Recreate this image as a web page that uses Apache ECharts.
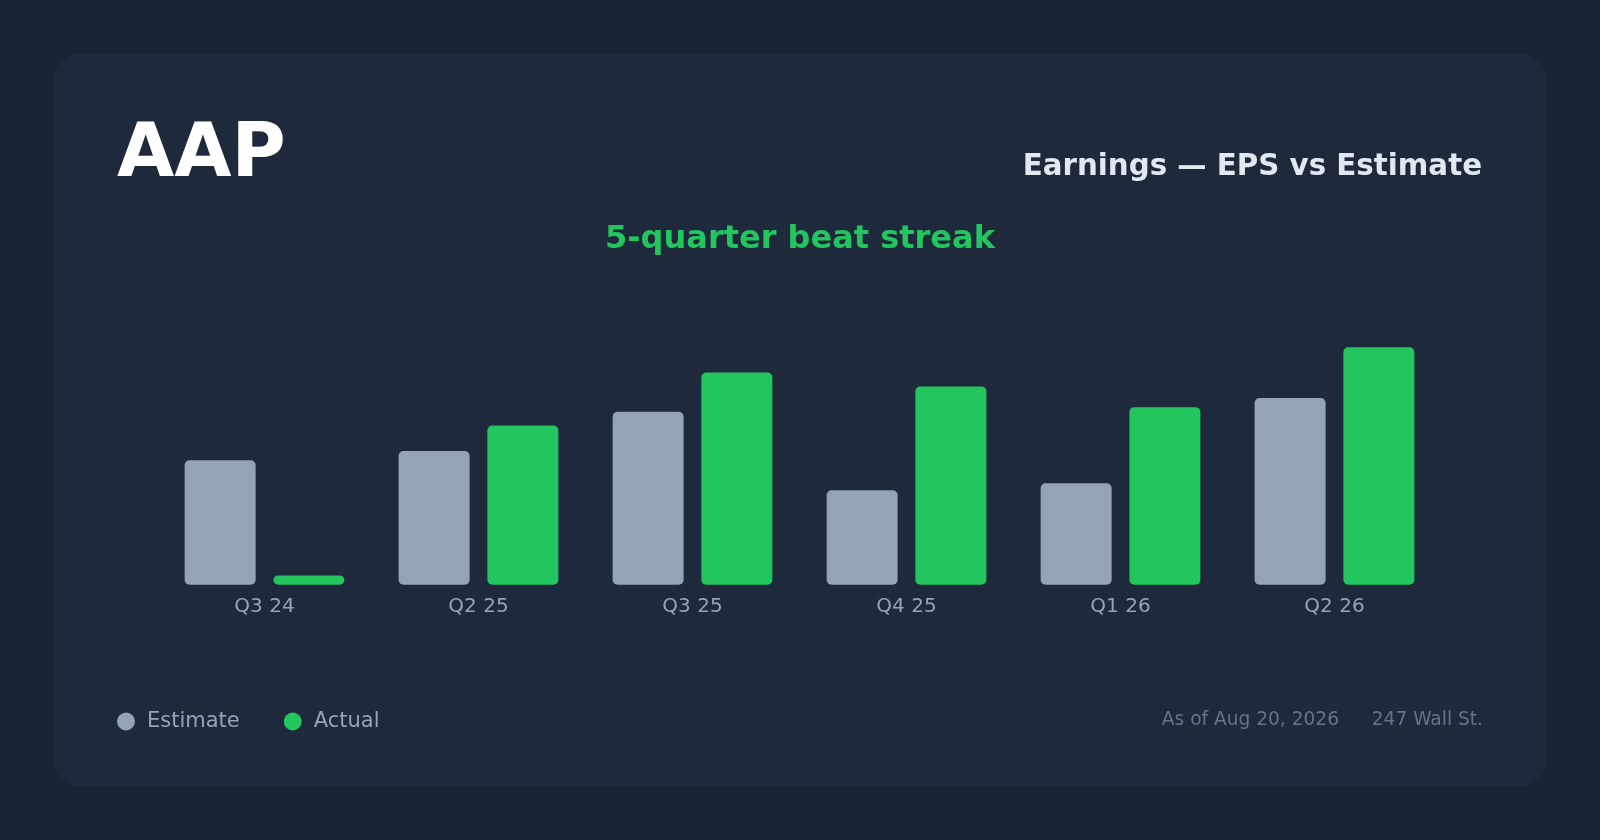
<!DOCTYPE html>
<html>
<head>
<meta charset="utf-8">
<title>AAP Earnings</title>
<script src="https://cdn.jsdelivr.net/npm/echarts@6/dist/echarts.min.js"></script>
<style>
  html, body { margin: 0; padding: 0; background: #1a2332; }
  #main { width: 1600px; height: 840px; }
</style>
</head>
<body>
<div id="main"></div>
<script>
// quarters and EPS values (USD)
const quarters = ['Q3 24', 'Q2 25', 'Q3 25', 'Q4 25', 'Q1 26', 'Q2 26'];
const estimate = [0.54, 0.58, 0.75, 0.41, 0.44, 0.81];
const actual = [0.04, 0.69, 0.92, 0.86, 0.77, 1.03];

const font = 'DejaVu Sans';
const chart = echarts.init(document.getElementById('main'), null, { renderer: 'canvas' });

const option = {
  backgroundColor: '#1a2332',
  animation: false,
  title: [
    {
      text: 'AAP',
      left: 117,
      top: 120,
      padding: 0,
      textStyle: { color: '#ffffff', fontSize: 74, fontWeight: 'bold', fontFamily: font }
    },
    {
      text: 'Earnings — EPS vs Estimate',
      right: 118,
      top: 153,
      padding: 0,
      textStyle: { color: '#e2e8f0', fontSize: 29.3, fontWeight: 'bold', fontFamily: font }
    },
    {
      text: '5-quarter beat streak',
      left: 'center',
      top: 224,
      padding: 0,
      textStyle: { color: '#22c55e', fontSize: 32, fontWeight: 'bold', fontFamily: font }
    }
  ],
  legend: {
    left: 117,
    top: 711,
    padding: 0,
    icon: 'circle',
    itemWidth: 18,
    itemHeight: 18,
    itemGap: 44,
    textStyle: { color: '#94a3b8', fontSize: 21, fontFamily: font, padding: [0, 0, 0, 7] },
    data: ['Estimate', 'Actual']
  },
  grid: {
    left: 157.5,
    right: 158.5,
    top: 308,
    bottom: 255.3
  },
  xAxis: {
    type: 'category',
    data: quarters,
    axisLine: { show: false },
    axisTick: { show: false },
    axisLabel: { color: '#94a3b8', fontSize: 20, fontFamily: font, margin: 12 }
  },
  yAxis: {
    type: 'value',
    min: 0,
    max: 1.2,
    show: false,
    splitLine: { show: false }
  },
  series: [
    {
      name: 'Estimate',
      type: 'bar',
      data: estimate,
      barWidth: 71,
      barGap: '25%',
      itemStyle: { color: '#94a3b8', borderRadius: 5 }
    },
    {
      name: 'Actual',
      type: 'bar',
      data: actual,
      barWidth: 71,
      itemStyle: { color: '#22c55e', borderRadius: 5 }
    }
  ],
  graphic: [
    {
      type: 'rect',
      z: -10,
      silent: true,
      shape: { x: 54, y: 54, width: 1492, height: 732, r: 26 },
      style: { fill: '#1e293b' }
    },
    {
      type: 'text',
      right: 117,
      top: 711,
      style: { text: '247 Wall St.', fill: '#64748b', fontSize: 18.6, fontFamily: font }
    },
    {
      type: 'text',
      right: 261,
      top: 711,
      style: { text: 'As of Aug 20, 2026', fill: '#64748b', fontSize: 18.6, fontFamily: font }
    }
  ]
};

chart.setOption(option);
</script>
</body>
</html>
